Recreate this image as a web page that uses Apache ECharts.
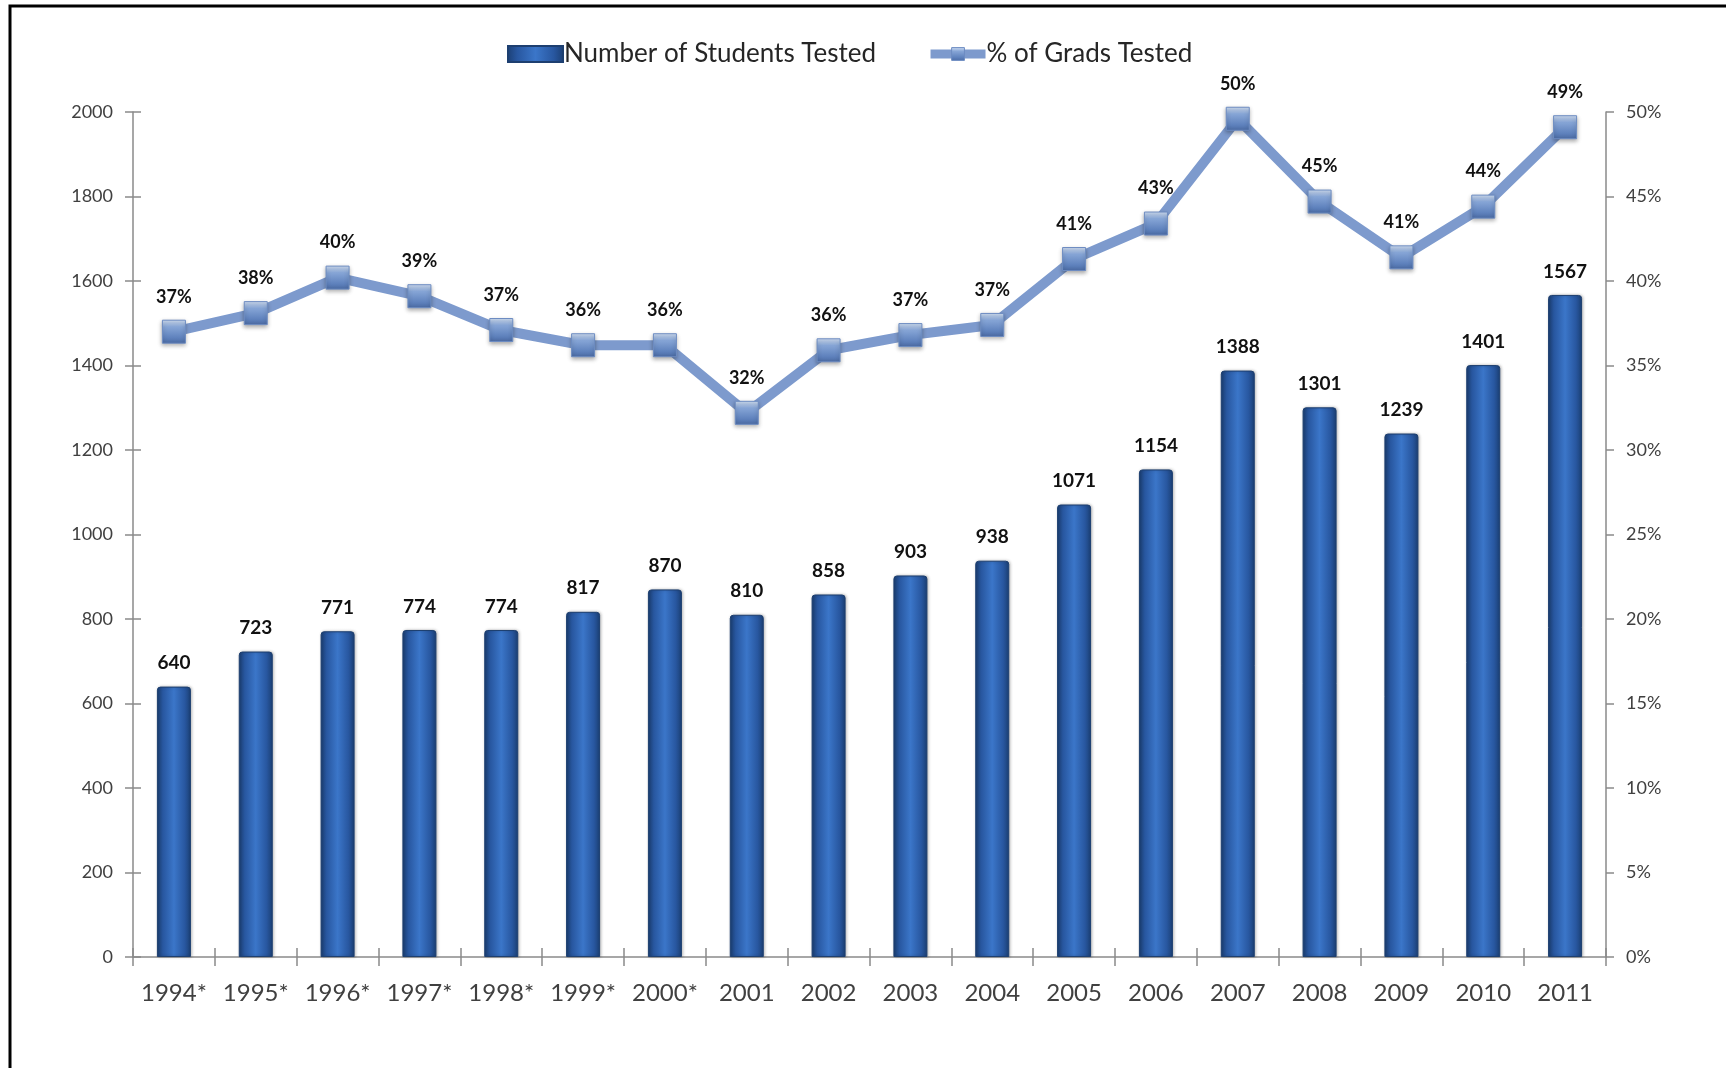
<!DOCTYPE html>
<html>
<head>
<meta charset="utf-8">
<script src="https://cdn.jsdelivr.net/npm/echarts@6/dist/echarts.min.js"></script>
<style>
  html, body { margin: 0; padding: 0; background: #ffffff; }
  #chart { width: 1726px; height: 1068px; }
</style>
</head>
<body>
<div id="chart"></div>
<script>
// Categories: test years (starred years use the older reporting method)
const years = ['1994*', '1995*', '1996*', '1997*', '1998*', '1999*', '2000*',
  '2001', '2002', '2003', '2004', '2005', '2006', '2007', '2008', '2009', '2010', '2011'];

// Number of students tested each year
const studentsTested = [640, 723, 771, 774, 774, 817, 870, 810, 858, 903, 938,
  1071, 1154, 1388, 1301, 1239, 1401, 1567];

// Share of graduates tested (percent)
const gradsTestedPct = [37.0, 38.1, 40.2, 39.1, 37.1, 36.2, 36.2, 32.2, 35.9, 36.8,
  37.4, 41.3, 43.4, 49.6, 44.7, 41.4, 44.4, 49.1];

// Axis scales
const countAxisMax = 2000;
const countAxisStep = 200;
const pctAxisMax = 50;
const pctAxisStep = 5;

const FONT = 'Lato, "Open Sans", sans-serif';
const AXIS_GRAY = '#8a8a8a';
const LABEL_GRAY = '#404040';
const LINE_BLUE = '#7d9acd';

const barFill = new echarts.graphic.LinearGradient(0, 0, 1, 0, [
  { offset: 0, color: '#1b3f73' },
  { offset: 0.18, color: '#2857a0' },
  { offset: 0.5, color: '#3b76c9' },
  { offset: 0.82, color: '#2857a0' },
  { offset: 1, color: '#1b3f73' }
]);

const markerFill = new echarts.graphic.LinearGradient(0, 0, 0, 1, [
  { offset: 0, color: '#d3e1f4' },
  { offset: 0.3, color: '#86a5d6' },
  { offset: 0.75, color: '#5f82bd' },
  { offset: 1, color: '#4a6aa3' }
]);

const chart = echarts.init(document.getElementById('chart'), null, { renderer: 'canvas' });

chart.setOption({
  backgroundColor: '#ffffff',
  animation: false,
  graphic: [{
    type: 'rect',
    silent: true,
    shape: { x: 10, y: 6, width: 1800, height: 1200 },
    style: { fill: 'none', stroke: '#000000', lineWidth: 3 }
  }],
  legend: {
    top: 36,
    left: 502,
    itemWidth: 55,
    itemHeight: 16,
    itemGap: 50,
    textStyle: { fontFamily: FONT, fontSize: 26, color: '#262626', padding: [0, 0, 0, -4] },
    data: [
      { name: 'Number of Students Tested', icon: 'rect', itemStyle: { color: barFill } },
      {
        name: '% of Grads Tested',
        lineStyle: { color: LINE_BLUE, width: 9 },
        itemStyle: { color: markerFill, borderColor: '#6d8cc2', borderWidth: 1 }
      }
    ]
  },
  grid: { left: 133, right: 120, top: 112, bottom: 111 },
  xAxis: [{
    type: 'category',
    data: years,
    axisLine: { lineStyle: { color: AXIS_GRAY, width: 1.5 } },
    axisTick: { show: true, length: 9, lineStyle: { color: AXIS_GRAY, width: 1.5 } },
    axisLabel: { fontFamily: FONT, fontSize: 24, color: LABEL_GRAY, margin: 24, interval: 0 }
  }, {
    // inner half of the crossing tick marks
    type: 'category',
    data: years,
    position: 'bottom',
    axisLine: { show: false },
    axisTick: { show: true, inside: true, length: 9, lineStyle: { color: AXIS_GRAY, width: 1.5 } },
    axisLabel: { show: false }
  }],
  yAxis: [{
    type: 'value',
    min: 0,
    max: countAxisMax,
    interval: countAxisStep,
    position: 'left',
    splitLine: { show: false },
    axisLine: { show: true, lineStyle: { color: AXIS_GRAY, width: 1.5 } },
    axisTick: { show: true, length: 8, lineStyle: { color: AXIS_GRAY, width: 1.5 } },
    axisLabel: { fontFamily: FONT, fontSize: 18, color: LABEL_GRAY, margin: 20, formatter: v => String(v) }
  }, {
    type: 'value',
    min: 0,
    max: pctAxisMax,
    interval: pctAxisStep,
    position: 'right',
    splitLine: { show: false },
    axisLine: { show: true, lineStyle: { color: AXIS_GRAY, width: 1.5 } },
    axisTick: { show: true, length: 8, lineStyle: { color: AXIS_GRAY, width: 1.5 } },
    axisLabel: { fontFamily: FONT, fontSize: 18, color: LABEL_GRAY, margin: 20, formatter: '{value}%' }
  }, {
    // inner half of the crossing tick marks on the count axis
    type: 'value',
    min: 0,
    max: countAxisMax,
    interval: countAxisStep,
    position: 'left',
    splitLine: { show: false },
    axisLine: { show: false },
    axisTick: { show: true, inside: true, length: 8, lineStyle: { color: AXIS_GRAY, width: 1.5 } },
    axisLabel: { show: false }
  }],
  series: [{
    name: 'Number of Students Tested',
    type: 'bar',
    xAxisIndex: 0,
    yAxisIndex: 0,
    data: studentsTested,
    barWidth: 34,
    itemStyle: {
      color: barFill,
      borderColor: '#1d3f70',
      borderWidth: 1,
      borderRadius: [3, 3, 0, 0],
      shadowColor: 'rgba(0,0,0,0.25)',
      shadowBlur: 3,
      shadowOffsetX: 1
    },
    label: {
      show: true,
      position: 'top',
      distance: 14,
      fontFamily: FONT,
      fontWeight: 'bold',
      fontSize: 19,
      color: '#111111'
    },
    z: 2
  }, {
    name: '% of Grads Tested',
    type: 'line',
    xAxisIndex: 0,
    yAxisIndex: 1,
    data: gradsTestedPct,
    symbol: 'rect',
    symbolSize: 23,
    lineStyle: { color: LINE_BLUE, width: 10 },
    itemStyle: {
      color: markerFill,
      borderColor: '#6d8cc2',
      borderWidth: 1,
      shadowColor: 'rgba(0,0,0,0.3)',
      shadowBlur: 4,
      shadowOffsetY: 2
    },
    label: {
      show: true,
      position: 'top',
      distance: 14,
      fontFamily: FONT,
      fontWeight: 'bold',
      fontSize: 18,
      color: '#111111',
      formatter: p => Math.round(p.value) + '%'
    },
    z: 3
  }]
});
</script>
</body>
</html>
